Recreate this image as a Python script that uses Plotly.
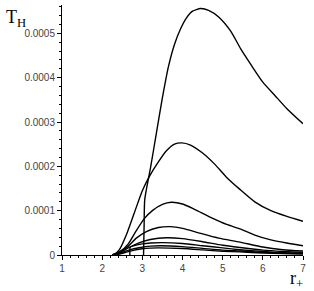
import plotly.graph_objects as go

# r+ values and T_H values (units of 1e-4)
c1_x = [3.03, 3.045, 3.06, 3.2, 3.35, 3.5, 3.65, 3.8, 3.95, 4.1, 4.25, 4.45, 4.65, 4.9, 5.2, 5.45, 5.7, 6.0, 6.3, 6.6, 7.0]
c1_y = [0, 0.7, 1.25, 1.95, 2.75, 3.55, 4.25, 4.75, 5.1, 5.35, 5.5, 5.56, 5.52, 5.37, 5.05, 4.65, 4.3, 3.9, 3.6, 3.3, 2.96]

c2_x = [2.3, 2.43, 2.6, 2.8, 3.0, 3.18, 3.4, 3.6, 3.8, 3.98, 4.2, 4.5, 4.8, 5.1, 5.43, 5.8, 6.2, 6.6, 7.0]
c2_y = [0, 0.12, 0.45, 0.95, 1.45, 1.78, 2.1, 2.35, 2.5, 2.53, 2.48, 2.3, 2.05, 1.75, 1.48, 1.2, 1.0, 0.87, 0.76]

c3_x = [2.25, 2.45, 2.65, 2.85, 3.05, 3.25, 3.5, 3.72, 4.0, 4.3, 4.7, 5.1, 5.43, 5.8, 6.2, 6.6, 7.0]
c3_y = [0, 0.08, 0.25, 0.55, 0.82, 1.0, 1.14, 1.19, 1.15, 1.03, 0.85, 0.69, 0.59, 0.45, 0.34, 0.27, 0.21]

c4_x = [2.25, 2.45, 2.65, 2.85, 3.1, 3.4, 3.7, 4.0, 4.4, 4.9, 5.43, 6.0, 6.5, 7.0]
c4_y = [0, 0.07, 0.2, 0.38, 0.53, 0.62, 0.64, 0.6, 0.5, 0.38, 0.29, 0.18, 0.12, 0.09]

c5_x = [2.25, 2.45, 2.65, 2.9, 3.2, 3.6, 4.0, 4.5, 5.0, 5.43, 6.0, 6.5, 7.0]
c5_y = [0, 0.06, 0.16, 0.27, 0.35, 0.39, 0.37, 0.3, 0.22, 0.17, 0.11, 0.08, 0.06]

c6_x = [2.69, 2.7, 2.8, 3.0, 3.2, 3.5, 4.0, 4.5, 5.0, 5.43, 6.0, 6.5, 7.0]
c6_y = [0, 0.18, 0.21, 0.25, 0.27, 0.28, 0.26, 0.21, 0.16, 0.12, 0.08, 0.05, 0.04]

c7_x = [2.3, 2.5, 2.7, 2.95, 3.2, 3.45, 4.0, 4.5, 5.0, 5.43, 6.0, 6.5, 7.0]
c7_y = [0, 0.06, 0.12, 0.17, 0.2, 0.21, 0.19, 0.15, 0.11, 0.09, 0.06, 0.04, 0.03]

c8_x = [2.35, 2.55, 2.75, 3.0, 3.2, 3.4, 4.0, 4.5, 5.0, 5.43, 6.0, 6.5, 7.0]
c8_y = [0, 0.05, 0.1, 0.14, 0.155, 0.16, 0.145, 0.115, 0.085, 0.07, 0.045, 0.03, 0.02]

curves = [(c1_x, c1_y), (c2_x, c2_y), (c3_x, c3_y), (c4_x, c4_y),
          (c5_x, c5_y), (c6_x, c6_y), (c7_x, c7_y), (c8_x, c8_y)]

x_ticks = [1, 2, 3, 4, 5, 6, 7]
y_tickvals = [0, 0.0001, 0.0002, 0.0003, 0.0004, 0.0005]
y_ticktext = ["0", "0.0001", "0.0002", "0.0003", "0.0004", "0.0005"]

W, H = 314, 291
ML, MR, MT, MB = 62, 11, 5, 36

fig = go.Figure()
for xs, ys in curves:
    fig.add_trace(go.Scatter(
        x=xs, y=[v * 1e-4 for v in ys], mode="lines",
        line=dict(color="black", width=1.4, shape="spline", smoothing=0.6),
        showlegend=False, hoverinfo="skip"))

tickfont = dict(family="Liberation Sans, Arial, sans-serif", size=10, color="#444")
pw = W - ML - MR
ph = H - MT - MB

def px_to_paper(px, py):
    return (px - ML) / pw, (H - MB - py) / ph

tx, ty = px_to_paper(4, 5)
rx, ry = px_to_paper(288, 266)

fig.update_layout(
    width=W, height=H,
    margin=dict(l=ML, r=MR, t=MT, b=MB),
    paper_bgcolor="white", plot_bgcolor="white",
    xaxis=dict(range=[1, 7], tickvals=x_ticks, ticktext=[str(t) for t in x_ticks],
               showgrid=False, zeroline=False, showline=True, linecolor="black", linewidth=1,
               ticks="outside", ticklen=4, tickcolor="black", tickfont=tickfont,
               minor=dict(dtick=0.2, ticks="outside", ticklen=2, tickcolor="black")),
    yaxis=dict(range=[0, 0.000564], tickvals=y_tickvals, ticktext=y_ticktext,
               showgrid=False, zeroline=False, showline=True, linecolor="black", linewidth=1,
               ticks="outside", ticklen=4, tickcolor="black", tickfont=tickfont,
               minor=dict(dtick=0.00002, ticks="outside", ticklen=2, tickcolor="black")),
    annotations=[
        dict(text="T<sub>H</sub>", x=tx, y=ty, xref="paper", yref="paper", showarrow=False,
             xanchor="left", yanchor="top",
             font=dict(family="Liberation Serif, Times New Roman, serif", size=18, color="black")),
        dict(text="r<sub>+</sub>", x=rx, y=ry, xref="paper", yref="paper", showarrow=False,
             xanchor="left", yanchor="top",
             font=dict(family="Liberation Serif, Times New Roman, serif", size=18, color="black")),
    ],
)

fig.write_html("out.html", config={"displayModeBar": False, "staticPlot": True})

# remove the default page margin so the figure sits at the window's top-left corner
with open("out.html", "r", encoding="utf-8") as f:
    html = f.read()
html = html.replace("<head>", "<head><style>html,body{margin:0;padding:0;overflow:hidden;}</style>", 1)
with open("out.html", "w", encoding="utf-8") as f:
    f.write(html)
